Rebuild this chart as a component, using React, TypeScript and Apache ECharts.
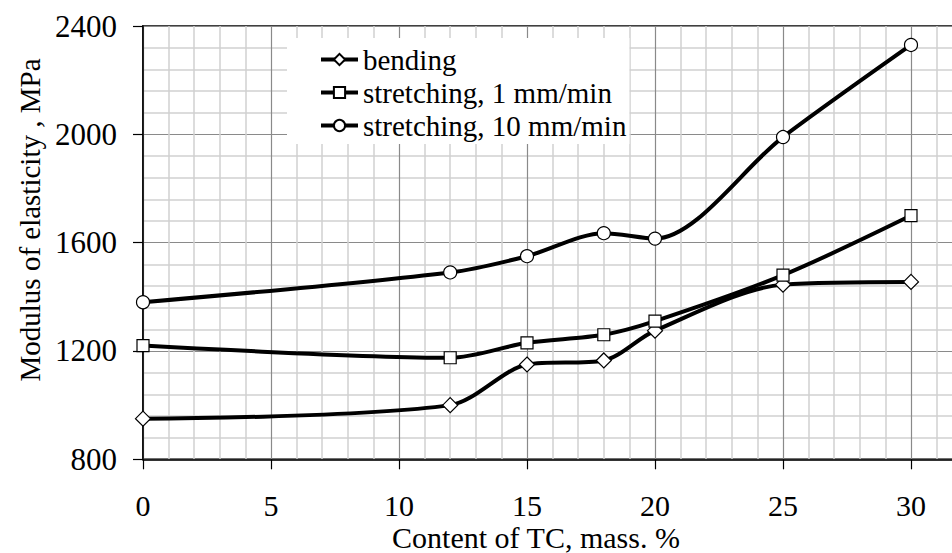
import React, { useEffect, useRef } from "react";
import * as echarts from "echarts";

const xValues = [0, 12, 15, 18, 20, 25, 30];
const bending = [950, 1000, 1150, 1165, 1275, 1445, 1455];
const stretch1 = [1220, 1175, 1230, 1260, 1310, 1480, 1700];
const stretch10 = [1380, 1490, 1550, 1635, 1615, 1990, 2330];
const seriesNames = ["bending", "stretching, 1 mm/min", "stretching, 10 mm/min"];
const xTitle = "Content of TC, mass. %";
const yTitle = "Modulus of elasticity , MPa";

const FONT = "Liberation Serif";

export default function App() {
  const ref = useRef<HTMLDivElement>(null);
  useEffect(() => {
    document.body.style.margin = "0";
    const chart = echarts.init(ref.current!, null, { renderer: "svg" });
    const pair = (arr: number[]) => xValues.map((x, i) => [x, arr[i]]);
    const mkSeries = (name: string, data: number[], symbol: string, size: number) => ({
      name,
      type: "line",
      data: pair(data),
      smooth: 0.3,
      symbol,
      symbolSize: size,
      showAllSymbol: true,
      lineStyle: { color: "#000", width: 4 },
      itemStyle: { color: "#fff", borderColor: "#000", borderWidth: 1.2 },
      emphasis: { disabled: true },
    });
    chart.setOption({
      animation: false,
      backgroundColor: "#fff",
      textStyle: { fontFamily: FONT, color: "#000" },
      grid: {
        left: 143,
        top: 26,
        width: 896,
        height: 433.3,
        show: true,
        borderColor: "#404040",
        borderWidth: 2,
        backgroundColor: "transparent",
        outerBoundsMode: "none",
        containLabel: false,
      },
      legend: {
        orient: "vertical",
        left: 287,
        top: 38,
        padding: [7, 3, 4, 32],
        backgroundColor: "#fff",
        itemWidth: 37,
        itemHeight: 14,
        itemGap: 4,
        lineStyle: { width: 4, color: "#000" },
        textStyle: { fontFamily: FONT, fontSize: 29, color: "#000" },
        data: seriesNames,
      },
      xAxis: {
        type: "value",
        min: 0,
        max: 35,
        interval: 5,
        axisLine: { show: true, onZero: false, lineStyle: { color: "#000", width: 1.5 } },
        axisTick: { show: true, length: 10, lineStyle: { color: "#000", width: 1.2 } },
        axisLabel: {
          margin: 37,
          fontFamily: FONT,
          fontSize: 30,
          lineHeight: 18,
          color: "#000",
          showMaxLabel: false,
        },
        splitLine: { show: true, lineStyle: { color: "#8a8a8a", width: 1.2 } },
        minorTick: { show: false, splitNumber: 5 },
        minorSplitLine: { show: true, lineStyle: { color: "#d0d0d0", width: 1.5 } },
      },
      yAxis: {
        type: "value",
        min: 800,
        max: 2400,
        interval: 400,
        axisLine: { show: true, onZero: false, lineStyle: { color: "#000", width: 1.5 } },
        axisTick: { show: true, length: 10, lineStyle: { color: "#000", width: 1.2 } },
        axisLabel: {
          margin: 26,
          fontFamily: FONT,
          fontSize: 31,
          color: "#000",
          formatter: (v: number) => String(v),
        },
        splitLine: { show: true, lineStyle: { color: "#8a8a8a", width: 1.2 } },
        minorTick: { show: false, splitNumber: 5 },
        minorSplitLine: { show: true, lineStyle: { color: "#d0d0d0", width: 1.5 } },
      },
      graphic: [
        {
          type: "text",
          x: 30,
          y: 220,
          rotation: Math.PI / 2,
          style: {
            text: yTitle,
            font: `29px "${FONT}"`,
            fill: "#000",
            textAlign: "center",
            textVerticalAlign: "middle",
          },
        },
        {
          type: "text",
          x: 536,
          y: 537,
          style: {
            text: xTitle,
            font: `30px "${FONT}"`,
            lineHeight: 20,
            fill: "#000",
            textAlign: "center",
            textVerticalAlign: "middle",
          },
        },
      ],
      series: [
        mkSeries(seriesNames[0], bending, "diamond", 15),
        mkSeries(seriesNames[1], stretch1, "rect", 12),
        mkSeries(seriesNames[2], stretch10, "circle", 13),
      ],
    });
    return () => chart.dispose();
  }, []);
  return <div ref={ref} style={{ width: 952, height: 553 }} />;
}
